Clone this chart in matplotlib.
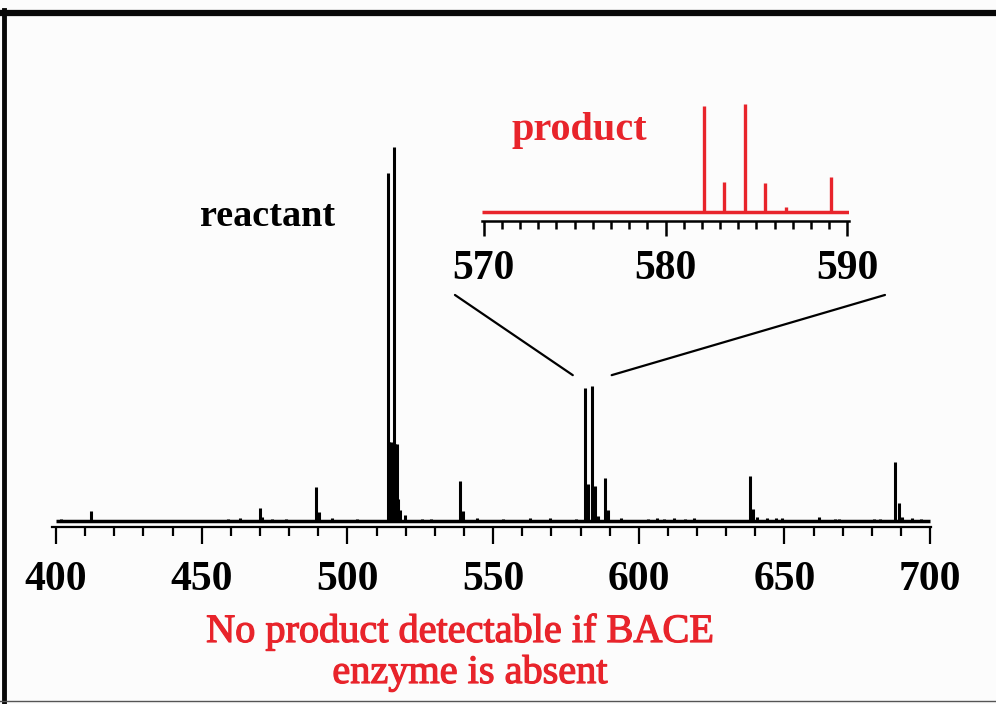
import matplotlib.pyplot as plt
import matplotlib.patheffects as pe
from matplotlib.lines import Line2D
from matplotlib.patches import ConnectionPatch
from matplotlib.ticker import MultipleLocator

# main spectrum, no enzyme (m/z, relative intensity %)
main_mz = [401.7, 411.9, 459.0, 463.2, 469.9, 470.8, 474.0, 478.9,
           489.1, 490.3, 494.6, 503.2,
           513.8, 514.3, 514.9, 515.9, 516.4, 516.9, 517.4, 518.2, 519.6,
           525.5, 528.6, 538.7, 539.8, 544.4, 553.3, 562.6, 569.4, 578.3,
           581.7, 582.7, 583.8, 584.9, 586.0, 588.4, 589.3,
           594.0, 603.3, 606.4, 608.8, 612.2, 616.0, 619.0,
           638.3, 639.3, 640.6, 644.0, 647.0, 649.0, 661.8, 667.3, 668.6,
           680.8, 682.9, 688.0, 689.4, 690.2, 693.7, 696.8]
main_int = [0.6, 2.7, 0.5, 0.9, 3.5, 1.0, 0.6, 0.6,
            9.2, 2.4, 0.9, 0.6,
            93.0, 21.0, 21.0, 100.0, 20.5, 20.5, 6.0, 3.0, 1.6,
            0.6, 0.6, 10.7, 2.7, 0.8, 0.6, 0.8, 0.7, 0.6,
            35.6, 9.9, 36.2, 9.4, 1.4, 11.6, 2.9,
            0.8, 0.6, 0.7, 0.6, 0.8, 0.6, 0.7,
            12.0, 3.2, 1.0, 0.8, 0.8, 0.7, 1.0, 0.6, 0.6,
            0.6, 0.6, 15.8, 4.8, 1.0, 0.8, 0.6]

# inset: product window 570-590 (with enzyme)
inset_mz = [582.14, 583.2, 584.36, 585.46, 586.6, 589.1]
inset_int = [98.0, 28.0, 100.0, 27.0, 4.6, 32.0]

main_ticks = [400, 450, 500, 550, 600, 650, 700]
inset_ticks = [570, 580, 590]

RED = "#e8242b"
W, H = 996, 704

fig = plt.figure(figsize=(W / 100, H / 100), dpi=100, facecolor="#fcfcfc")

# main axes (pixel box -> figure fraction)
ax = fig.add_axes([51.7 / W, (H - 527) / H, (931 - 51.7) / W, 400 / H])
ax.set_facecolor("none")
ax.hlines(0, 400, 700, color="black", lw=2.5, zorder=2)
ax.vlines(main_mz, 0, main_int, color="black", lw=2.2, zorder=3)
ax.set_xlim(398.5, 700.3)
ax.set_ylim(-1.6, 105.35)
ax.set_xticks(main_ticks)
ax.xaxis.set_minor_locator(MultipleLocator(10))
ax.tick_params(axis="x", which="major", direction="out", length=12.5,
               width=1.6, pad=12)
ax.tick_params(axis="x", which="minor", direction="out", length=6.5,
               width=1.6)
ax.set_yticks([])
for s in ["top", "right", "left"]:
    ax.spines[s].set_visible(False)
ax.spines["bottom"].set_linewidth(1.6)
for lab in ax.get_xticklabels():
    lab.set_fontfamily("Liberation Serif")
    lab.set_fontweight("bold")
    lab.set_fontsize(30)

# inset axes
ins = fig.add_axes([481.7 / W, (H - 221) / H, (849.3 - 481.7) / W, 126 / H])
ins.set_facecolor("none")
ins.hlines(0, 569.9, 590.1, color=RED, lw=2.5, zorder=2)
ins.vlines(inset_mz, 0, inset_int, color=RED, lw=2.4, zorder=3)
ins.set_xlim(569.9, 590.1)
ins.set_ylim(-8.33, 108.3)
ins.set_xticks(inset_ticks)
ins.xaxis.set_minor_locator(MultipleLocator(1))
ins.tick_params(axis="x", which="major", direction="out", length=11,
                width=1.8, pad=10)
ins.tick_params(axis="x", which="minor", direction="out", length=5.5,
                width=1.8)
ins.set_yticks([])
for s in ["top", "right", "left"]:
    ins.spines[s].set_visible(False)
ins.spines["bottom"].set_linewidth(1.8)
for lab in ins.get_xticklabels():
    lab.set_fontfamily("Liberation Serif")
    lab.set_fontweight("bold")
    lab.set_fontsize(30)

# zoom connector lines: inset (x data, y axes frac) -> main spectrum
for x_in, x_main in [(568.43, 577.35), (592.06, 590.7)]:
    con = ConnectionPatch(xyA=(x_in, -0.587), coordsA=ins.get_xaxis_transform(),
                          xyB=(x_main, 39.0), coordsB=ax.transData,
                          color="black", lw=1.6)
    fig.add_artist(con)

# labels
fig.text(200 / W, 1 - 226 / H, "reactant", fontfamily="Liberation Serif",
         fontweight="bold", fontsize=27.5, color="black", va="baseline")
fig.text(512 / W, 1 - 140 / H, "product", fontfamily="Liberation Serif",
         fontweight="bold", fontsize=29, color=RED, va="baseline")
heavy = [pe.withStroke(linewidth=0.9, foreground=RED)]
fig.text(460 / W, 1 - 642 / H, "No product detectable if BACE",
         fontfamily="Liberation Serif", fontsize=29, color=RED,
         ha="center", va="baseline", path_effects=heavy)
fig.text(470 / W, 1 - 683 / H, "enzyme is absent",
         fontfamily="Liberation Serif", fontsize=29, color=RED,
         ha="center", va="baseline", path_effects=heavy)

# frame
fig.add_artist(Line2D([0, 1], [1 - 12.5 / H, 1 - 12.5 / H], color="#080808",
                      lw=4.5, transform=fig.transFigure))
fig.add_artist(Line2D([4 / W, 4 / W], [0, 1 - 10 / H], color="#080808",
                      lw=3.5, transform=fig.transFigure))
fig.add_artist(Line2D([0, 1], [1 - 701 / H, 1 - 701 / H], color="#555555",
                      lw=1.0, transform=fig.transFigure))

fig.savefig("out.png", dpi=100, facecolor=fig.get_facecolor())
